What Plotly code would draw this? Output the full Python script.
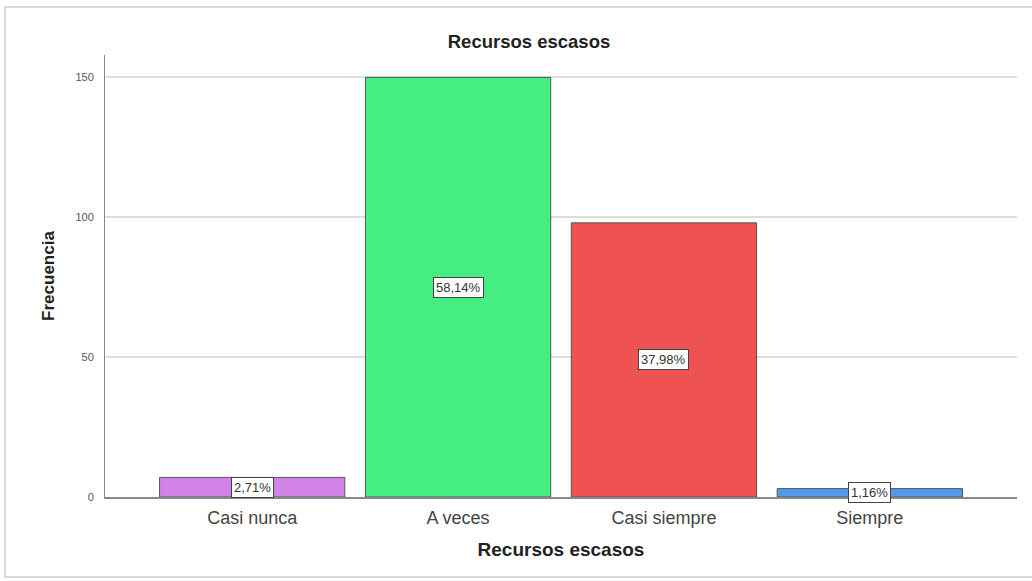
import plotly.graph_objects as go

categories = ["Casi nunca", "A veces", "Casi siempre", "Siempre"]
frequencies = [7, 150, 98, 3]
percent_labels = ["2,71%", "58,14%", "37,98%", "1,16%"]
colors = ["#D183E8", "#46EE82", "#EE5252", "#5299EA"]
y_ticks = [0, 50, 100, 150]

FONT = "Liberation Sans Narrow, Arial Narrow, Liberation Sans, Arial"

fig = go.Figure()
fig.add_trace(go.Bar(
    x=list(range(len(categories))),
    y=frequencies,
    width=0.9,
    marker=dict(color=colors, line=dict(color="#555555", width=1)),
    hoverinfo="skip",
))

for i, (v, lab) in enumerate(zip(frequencies, percent_labels)):
    fig.add_annotation(
        x=i, y=v / 2, text=lab, showarrow=False,
        font=dict(family=FONT, size=13, color="#333333"),
        bgcolor="white", bordercolor="#444444", borderwidth=1, borderpad=2,
    )

# outer frame (left, top and bottom edges visible; right edge runs off the page)
fig.add_shape(type="rect", xref="paper", yref="paper",
              x0=-0.1096, x1=1.1, y0=-0.181, y1=1.1086,
              line=dict(color="#cfcfcf", width=1.5), layer="below")

fig.update_layout(
    width=1032, height=581,
    margin=dict(l=105, r=15, t=55, b=84),
    paper_bgcolor="white", plot_bgcolor="white",
    showlegend=False,
    title=dict(text="<b>Recursos escasos</b>", x=0.5126, xanchor="center",
               y=0.9277, yanchor="middle",
               font=dict(family=FONT, size=18.5, color="#222222")),
    bargap=0.1,
)
fig.update_xaxes(
    tickmode="array", tickvals=list(range(len(categories))), ticktext=categories,
    range=[-0.715, 3.715], showgrid=False, zeroline=False,
    showline=True, linecolor="#888888", linewidth=1.5, ticks="outside",
    ticklen=4, tickcolor="rgba(0,0,0,0)",
    tickfont=dict(family=FONT, size=18, color="#444444"),
    title=dict(text="<b>Recursos escasos</b>", standoff=15,
               font=dict(family=FONT, size=19, color="#222222")),
)
fig.update_yaxes(
    range=[0, 158], tickvals=y_ticks, showgrid=True, gridcolor="#dddddd", gridwidth=1.5,
    zeroline=False, showline=True, linecolor="#888888", linewidth=1, ticks="",
    ticklabelstandoff=8,
    tickfont=dict(family=FONT, size=11, color="#555555"),
    title=dict(text="<b>Frecuencia</b>", standoff=16,
               font=dict(family=FONT, size=17, color="#222222")),
)

fig.write_html("out.html", config={"displayModeBar": False},
               post_script="document.body.style.margin='0';")
